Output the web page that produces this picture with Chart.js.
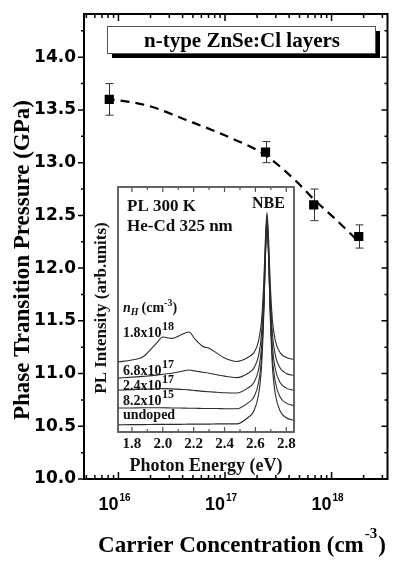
<!DOCTYPE html>
<html>
<head>
<meta charset="utf-8">
<script src="https://cdn.jsdelivr.net/npm/chart.js@4.4.1/dist/chart.umd.min.js"></script>
<style>
html, body { margin: 0; padding: 0; background: #fff; }
#wrap { position: relative; width: 394px; height: 561px; overflow: hidden; }
#main { position: absolute; left: 0; top: 0; }
#inset { position: absolute; left: 88px; top: 180px; }
</style>
</head>
<body>
<div id="wrap">
  <canvas id="main" width="394" height="561"></canvas>
  <canvas id="inset" width="215" height="300"></canvas>
</div>
<script>
// main panel: transition pressure vs carrier concentration
const carrier = [8.2e15, 2.4e17, 6.8e17, 1.8e18];
const pressure = [13.6, 13.1, 12.6, 12.3];
const pressureErr = [0.15, 0.1, 0.15, 0.11];

// dashed guide curve
const fitCarrier = [7.6e15, 1.9e16, 4.2e16, 1.1e17, 2.4e17, 4.7e17, 6.7e17, 1.1e18, 1.8e18];
const fitPressure = [13.61, 13.54, 13.41, 13.24, 13.07, 12.82, 12.66, 12.46, 12.25];

const pressureTicks = [10.0, 10.5, 11.0, 11.5, 12.0, 12.5, 13.0, 13.5, 14.0];
const carrierDecades = [16, 17, 18];

// inset: PL spectra (arb. units, stacked)
const energy = [1.71, 1.80, 1.87, 1.96, 2.00, 2.06, 2.11, 2.17, 2.21, 2.26, 2.30, 2.35, 2.40, 2.48,
  2.55, 2.59, 2.62, 2.64, 2.655, 2.665, 2.675, 2.685, 2.695, 2.71, 2.73, 2.76, 2.80, 2.85];
const pl18e17 = [28.6, 29.4, 30.6, 36.3, 38.8, 38.2, 39.4, 40.8, 37.8, 34.9, 34.2, 32.2, 30.2, 28.8,
  30.4, 32.4, 37.1, 45.7, 62.2, 79.2, 89.6, 79.2, 62.2, 45.7, 37.1, 32.4, 30.4, 29.6];
const pl68e16 = [22.0, 22.4, 22.7, 23.2, 23.6, 24.0, 24.6, 25.3, 24.9, 24.4, 24.0, 23.4, 22.8, 22.2,
  23.9, 26.1, 31.1, 40.2, 57.8, 75.9, 87.0, 75.9, 57.8, 40.2, 31.1, 26.1, 23.9, 23.0];
const pl24e16 = [17.1, 17.3, 17.5, 17.6, 17.7, 17.6, 17.4, 17.2, 16.9, 16.6, 16.4, 16.2, 16.0, 15.9,
  17.9, 20.2, 25.4, 34.9, 53.3, 72.3, 84.0, 72.3, 53.3, 34.9, 25.4, 20.2, 17.9, 17.0];
const pl82e14 = [9.8, 9.8, 9.9, 9.9, 9.9, 9.8, 9.8, 9.7, 9.7, 9.6, 9.6, 9.6, 9.5, 9.5,
  11.8, 14.3, 20.1, 30.6, 51.0, 72.2, 85.0, 72.2, 51.0, 30.6, 20.1, 14.3, 11.8, 10.7];
const plUndoped = [2.9, 3.0, 3.0, 3.1, 3.1, 3.1, 3.1, 3.2, 3.2, 3.2, 3.2, 3.3, 3.3, 3.3,
  5.8, 8.6, 15.2, 27.0, 49.9, 73.6, 88.0, 73.6, 49.9, 27.0, 15.2, 8.6, 5.8, 4.7];

const sampleLabels = ['1.8x10', '6.8x10', '2.4x10', '8.2x10', 'undoped'];
const sampleExps = ['18', '17', '17', '15', ''];
const energyTicks = [1.8, 2.0, 2.2, 2.4, 2.6, 2.8];

const SERIF = '"Liberation Serif", "Times New Roman", serif';

function pts(xs, ys) {
  return xs.map((v, i) => ({ x: v, y: ys[i] }));
}

const mainDecor = {
  id: 'mainDecor',
  beforeDatasetsDraw(chart) {
    const { ctx, scales: { x, y } } = chart;
    ctx.save();
    ctx.strokeStyle = '#333';
    ctx.lineWidth = 1;
    carrier.forEach((c, i) => {
      const px = Math.round(x.getPixelForValue(c)) + 0.5;
      const top = y.getPixelForValue(pressure[i] + pressureErr[i]);
      const bot = y.getPixelForValue(pressure[i] - pressureErr[i]);
      ctx.beginPath();
      ctx.moveTo(px, top); ctx.lineTo(px, bot);
      ctx.moveTo(px - 4, top); ctx.lineTo(px + 4, top);
      ctx.moveTo(px - 4, bot); ctx.lineTo(px + 4, bot);
      ctx.stroke();
    });
    ctx.restore();
  },
  afterDraw(chart) {
    const { ctx, chartArea: a, scales: { x, y } } = chart;
    ctx.save();
    ctx.strokeStyle = '#000';
    ctx.lineWidth = 1.5;
    ctx.beginPath();
    for (let d = 15; d <= 18; d++) {
      for (let m = 1; m <= 9; m++) {
        const v = m * Math.pow(10, d);
        if (v < x.min || v > x.max) continue;
        const px = x.getPixelForValue(v);
        const len = m === 1 ? 7 : 4;
        ctx.moveTo(px, a.top); ctx.lineTo(px, a.top + len);
        ctx.moveTo(px, a.bottom); ctx.lineTo(px, a.bottom - len);
      }
    }
    for (let k = 0; k <= 17; k++) {
      const v = 10 + k * 0.25;
      const py = y.getPixelForValue(v);
      const len = k % 2 === 0 ? 6 : 3;
      ctx.moveTo(a.left, py); ctx.lineTo(a.left - len, py);
      ctx.moveTo(a.right, py); ctx.lineTo(a.right - len, py);
    }
    ctx.stroke();
    ctx.lineWidth = 2;
    ctx.strokeRect(a.left, a.top, a.right - a.left, a.bottom - a.top);

    // y tick labels
    ctx.fillStyle = '#000';
    ctx.font = 'bold 17px "DejaVu Sans", sans-serif';
    ctx.textAlign = 'right';
    ctx.textBaseline = 'middle';
    pressureTicks.forEach(v => ctx.fillText(v.toFixed(1), a.left - 8, y.getPixelForValue(v)));

    // x tick labels 10^n
    ctx.textBaseline = 'alphabetic';
    carrierDecades.forEach(d => {
      const px = x.getPixelForValue(Math.pow(10, d));
      ctx.font = 'bold 18px "Liberation Sans", Arial, sans-serif';
      ctx.textAlign = 'right';
      ctx.fillText('10', px, 510);
      ctx.font = 'bold 10px "Liberation Sans", Arial, sans-serif';
      ctx.textAlign = 'left';
      ctx.fillText(String(d), px + 1, 501);
    });

    // x title
    const t1 = 'Carrier Concentration (cm';
    ctx.font = 'bold 23px ' + SERIF;
    const w1 = ctx.measureText(t1).width;
    const w3 = ctx.measureText(')').width;
    ctx.font = 'bold 15px ' + SERIF;
    const w2 = ctx.measureText('-3').width;
    let x0 = 241 - (w1 + w2 + w3) / 2;
    ctx.textAlign = 'left';
    ctx.font = 'bold 23px ' + SERIF;
    ctx.fillText(t1, x0, 552);
    ctx.font = 'bold 15px ' + SERIF;
    ctx.fillText('-3', x0 + w1 + 1, 538);
    ctx.font = 'bold 23px ' + SERIF;
    ctx.fillText(')', x0 + w1 + w2 + 2, 552);

    // y title
    ctx.save();
    ctx.translate(29, 260);
    ctx.rotate(-Math.PI / 2);
    ctx.textAlign = 'center';
    ctx.fillText('Phase Transition Pressure (GPa)', 0, 0);
    ctx.restore();

    // title box with shadow
    ctx.fillStyle = '#000';
    ctx.fillRect(112, 31, 268, 27);
    ctx.fillStyle = '#fff';
    ctx.fillRect(107, 26, 268, 27);
    ctx.strokeStyle = '#555';
    ctx.lineWidth = 1;
    ctx.strokeRect(107.5, 26.5, 268, 27);
    ctx.fillStyle = '#000';
    ctx.font = 'bold 21px ' + SERIF;
    ctx.textAlign = 'center';
    ctx.fillText('n-type ZnSe:Cl layers', 242, 47);
    ctx.restore();
  }
};

new Chart(document.getElementById('main'), {
  type: 'scatter',
  data: {
    datasets: [
      {
        type: 'scatter',
        data: pts(carrier, pressure),
        pointStyle: 'rect',
        pointRadius: 6.5,
        backgroundColor: '#000',
        borderColor: '#000',
        borderWidth: 0,
        order: 0
      },
      {
        type: 'line',
        data: pts(fitCarrier, fitPressure),
        borderColor: '#000',
        borderWidth: 2.2,
        borderDash: [9, 6],
        cubicInterpolationMode: 'monotone',
        pointRadius: 0,
        fill: false,
        order: 1
      }
    ]
  },
  options: {
    responsive: false,
    animation: false,
    events: [],
    layout: { padding: { left: 84, top: 14, right: 1, bottom: 82 } },
    plugins: { legend: { display: false }, tooltip: { enabled: false } },
    scales: {
      x: { type: 'logarithmic', display: false, min: 4.75e15, max: 3.35e18 },
      y: { type: 'linear', display: false, min: 10, max: 14.41 }
    }
  },
  plugins: [mainDecor]
});

const insetDecor = {
  id: 'insetDecor',
  beforeDraw(chart) {
    const { ctx, chartArea: a } = chart;
    ctx.save();
    ctx.fillStyle = '#fff';
    ctx.fillRect(a.left, a.top, a.right - a.left, a.bottom - a.top);
    ctx.restore();
  },
  afterDraw(chart) {
    const { ctx, chartArea: a, scales: { x } } = chart;
    const ox = 88, oy = 180;
    ctx.save();
    ctx.strokeStyle = '#555';
    ctx.lineWidth = 1.2;
    ctx.beginPath();
    for (let k = 0; k <= 11; k++) {
      const v = 1.8 + k * 0.1 - 0.1;
      if (v < x.min || v > x.max) continue;
      const px = x.getPixelForValue(v);
      const len = k % 2 === 1 ? 5 : 3;
      ctx.moveTo(px, a.top); ctx.lineTo(px, a.top + len);
      ctx.moveTo(px, a.bottom); ctx.lineTo(px, a.bottom - len);
    }
    ctx.stroke();
    ctx.lineWidth = 1.8;
    ctx.strokeRect(a.left, a.top, a.right - a.left, a.bottom - a.top);

    ctx.fillStyle = '#111';
    ctx.textBaseline = 'alphabetic';
    ctx.textAlign = 'center';
    ctx.font = 'bold 15px ' + SERIF;
    energyTicks.forEach(v => ctx.fillText(v.toFixed(1), x.getPixelForValue(v), 448 - oy));
    ctx.font = 'bold 18px ' + SERIF;
    ctx.fillText('Photon Energy (eV)', (a.left + a.right) / 2, 471 - oy);

    ctx.save();
    ctx.translate(106 - ox, 308 - oy);
    ctx.rotate(-Math.PI / 2);
    ctx.font = 'bold 17px ' + SERIF;
    ctx.fillText('PL Intensity (arb.units)', 0, 0);
    ctx.restore();

    ctx.textAlign = 'left';
    ctx.font = 'bold 17px ' + SERIF;
    ctx.fillText('PL 300 K', 127 - ox, 211 - oy);
    ctx.fillText('He-Cd 325 nm', 127 - ox, 231 - oy);
    ctx.font = 'bold 16px ' + SERIF;
    ctx.fillText('NBE', 252 - ox, 208 - oy);

    // n_H (cm^-3)
    let cx = 123 - ox;
    const by = 312 - oy;
    ctx.font = 'italic bold 14px ' + SERIF;
    ctx.fillText('n', cx, by); cx += ctx.measureText('n').width;
    ctx.font = 'italic bold 10px ' + SERIF;
    ctx.fillText('H', cx, by + 3); cx += ctx.measureText('H').width + 3;
    ctx.font = 'bold 14px ' + SERIF;
    ctx.fillText('(cm', cx, by); cx += ctx.measureText('(cm').width;
    ctx.font = 'bold 10px ' + SERIF;
    ctx.fillText('-3', cx, by - 6); cx += ctx.measureText('-3').width;
    ctx.font = 'bold 14px ' + SERIF;
    ctx.fillText(')', cx, by);

    const labelY = [337, 375, 390, 405, 419];
    sampleLabels.forEach((s, i) => {
      const lx = 123 - ox, ly = labelY[i] - oy;
      ctx.font = 'bold 14px ' + SERIF;
      ctx.fillText(s, lx, ly);
      if (sampleExps[i]) {
        const w = ctx.measureText(s).width;
        ctx.font = 'bold 12px ' + SERIF;
        ctx.fillText(sampleExps[i], lx + w + 0.5, ly - 7);
      }
    });
    ctx.restore();
  }
};

const spectra = [pl18e17, pl68e16, pl24e16, pl82e14, plUndoped];

new Chart(document.getElementById('inset'), {
  type: 'line',
  data: {
    datasets: spectra.map(vals => ({
      data: pts(energy, vals),
      borderColor: '#2b2b2b',
      borderWidth: 1.1,
      pointRadius: 0,
      cubicInterpolationMode: 'monotone',
      fill: false
    }))
  },
  options: {
    responsive: false,
    animation: false,
    events: [],
    layout: { padding: { left: 30, top: 7, right: 9, bottom: 48 } },
    plugins: { legend: { display: false }, tooltip: { enabled: false } },
    scales: {
      x: { type: 'linear', display: false, min: 1.71, max: 2.85 },
      y: { type: 'linear', display: false, min: 0, max: 100 }
    }
  },
  plugins: [insetDecor]
});
</script>
</body>
</html>
